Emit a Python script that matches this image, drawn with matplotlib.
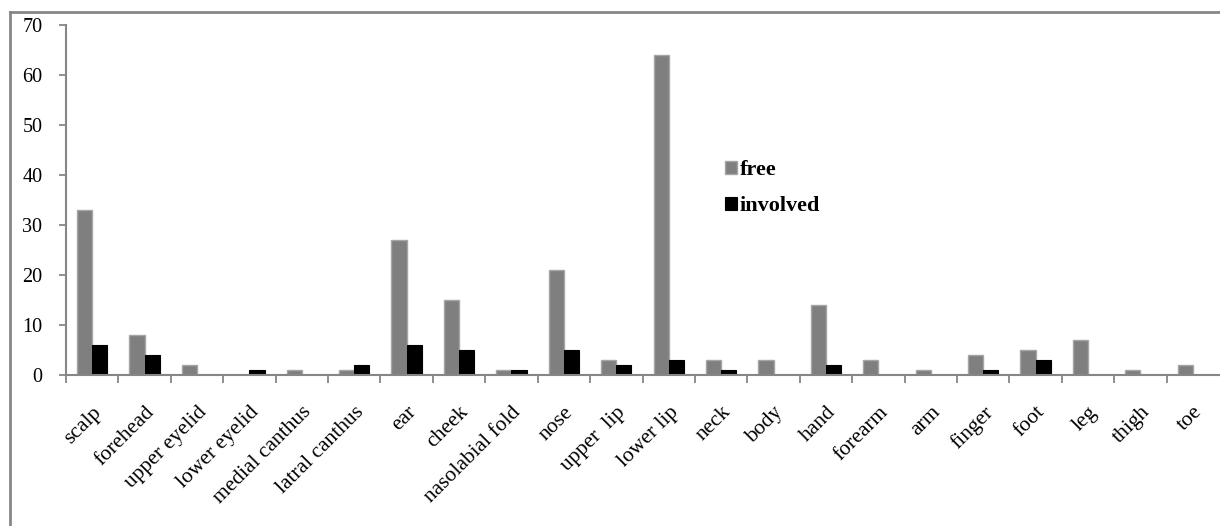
import numpy as np
import matplotlib
matplotlib.use("Agg")
import matplotlib.pyplot as plt
from matplotlib.lines import Line2D

# Data
sites = ["scalp", "forehead", "upper eyelid", "lower eyelid", "medial canthus",
         "latral canthus", "ear", "cheek", "nasolabial fold", "nose", "upper  lip",
         "lower lip", "neck", "body", "hand", "forearm", "arm", "finger", "foot",
         "leg", "thigh", "toe"]
free = [33, 8, 2, 0, 1, 1, 27, 15, 1, 21, 3, 64, 3, 3, 14, 3, 1, 4, 5, 7, 1, 2]
involved = [6, 4, 0, 1, 0, 2, 6, 5, 1, 5, 2, 3, 1, 0, 2, 0, 0, 1, 3, 0, 0, 0]
y_ticks = [0, 10, 20, 30, 40, 50, 60, 70]

plt.rcParams["font.family"] = ["Liberation Serif", "DejaVu Serif"]

axis_gray = "#868686"

fig = plt.figure(figsize=(12.2, 5.26), dpi=100)
ax = fig.add_axes([66 / 1220, 1 - 375 / 526, 1153 / 1220, 350 / 526])

x = np.arange(len(sites))
w = 0.29
ax.bar(x - w / 2, free, width=w, color="#7f7f7f", edgecolor="#a6a6a6",
       linewidth=1.0, label="free")
ax.bar(x + w / 2, involved, width=w, color="black", edgecolor="black",
       linewidth=0.8, label="involved")

ax.set_xlim(-0.5, len(sites) - 0.5)
ax.set_ylim(0, 70)
ax.set_yticks(y_ticks)
ax.tick_params(axis="y", direction="out", length=5, width=1.3, color=axis_gray,
               labelsize=14.5, pad=12)

# category labels centred, tick marks between categories
ax.set_xticks(x)
ax.set_xticklabels(sites, rotation=45, ha="right", rotation_mode="anchor",
                   fontsize=15.5)
ax.tick_params(axis="x", which="major", length=0, pad=20)
ax.set_xticks(np.arange(len(sites)) - 0.5, minor=True)
ax.tick_params(axis="x", which="minor", direction="out", length=6, width=1.3,
               color=axis_gray)

for s in ["top", "right"]:
    ax.spines[s].set_visible(False)
for s in ["left", "bottom"]:
    ax.spines[s].set_color(axis_gray)
    ax.spines[s].set_linewidth(1.5)

ax.legend(loc="upper left", bbox_to_anchor=(0.562, 0.645), frameon=False,
          prop={"weight": "bold", "size": 16}, handlelength=0.55,
          handleheight=0.55, handletextpad=0.12, labelspacing=0.72,
          borderpad=0)

# outer chart border
fig.add_artist(Line2D([10 / 1220, 10 / 1220], [0, 1 - 12 / 526],
                      transform=fig.transFigure, color=axis_gray, lw=2))
fig.add_artist(Line2D([10 / 1220, 1], [1 - 12 / 526, 1 - 12 / 526],
                      transform=fig.transFigure, color=axis_gray, lw=2))

plt.savefig("out.png", dpi=100)
